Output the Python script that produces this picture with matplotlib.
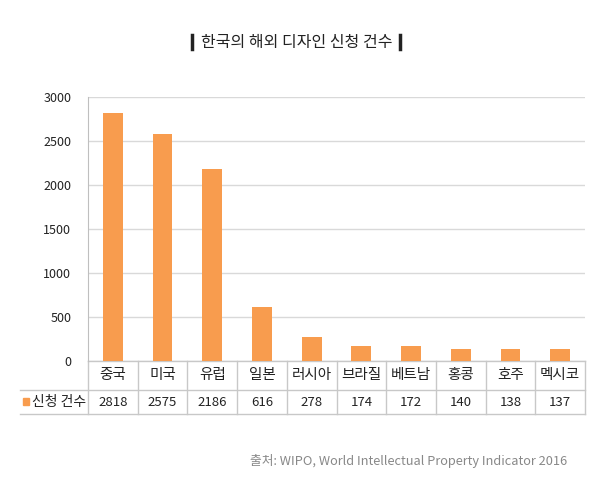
import numpy as np
import matplotlib.pyplot as plt
from matplotlib.lines import Line2D
from matplotlib.patches import Rectangle
import matplotlib.transforms as mtransforms

plt.rcParams['font.family'] = ['Noto Sans CJK KR', 'DejaVu Sans']

countries = ['중국', '미국', '유럽', '일본', '러시아', '브라질', '베트남', '홍콩', '호주', '멕시코']
counts = [2818, 2575, 2186, 616, 278, 174, 172, 140, 138, 137]
series_name = '신청 건수'
yticks = [0, 500, 1000, 1500, 2000, 2500, 3000]

title = '한국의 해외 디자인 신청 건수'
source = '출처: WIPO, World Intellectual Property Indicator 2016'

bar_color = '#F89C4E'
grid_color = '#D9D9D9'
text_color = '#222222'

W, H = 595, 480
fig = plt.figure(figsize=(W / 100, H / 100), dpi=100)
ax = fig.add_axes([88 / W, 1 - 361 / H, (585 - 88) / W, (361 - 97) / H])

x = np.arange(len(countries))
ax.bar(x, counts, width=0.4, color=bar_color, zorder=3)
ax.set_xlim(-0.5, len(countries) - 0.5)
ax.set_ylim(0, 3000)
ax.set_yticks(yticks)
ax.set_yticklabels([str(v) for v in yticks], fontsize=9, color=text_color)
ax.tick_params(axis='y', length=0, pad=12)
ax.set_xticks([])
ax.grid(axis='y', color=grid_color, linewidth=1, zorder=0)
for s in ['top', 'right', 'bottom']:
    ax.spines[s].set_visible(False)
ax.spines['left'].set_color('#BFBFBF')

# data table under the axis
trans = mtransforms.blended_transform_factory(ax.transData, ax.transAxes)
ah = 361 - 97
r1 = -29 / ah
r2 = -53 / ah
left_ax = (20 - 88) / (585 - 88)
lc = '#C8C8C8'
for i in range(len(countries) + 1):
    ax.add_line(Line2D([i - 0.5, i - 0.5], [0, r2], transform=trans, color=lc,
                       lw=1, clip_on=False))
ax.add_line(Line2D([0, 1], [0, 0], transform=ax.transAxes, color=lc, lw=1, clip_on=False))
for yy in [r1, r2]:
    ax.add_line(Line2D([left_ax, 1], [yy, yy], transform=ax.transAxes, color=lc,
                       lw=1, clip_on=False))
for i, (c, v) in enumerate(zip(countries, counts)):
    ax.text(i, r1 / 2, c, transform=trans, ha='center', va='center',
            fontsize=10.5, color=text_color)
    ax.text(i, (r1 + r2) / 2, str(v), transform=trans, ha='center', va='center',
            fontsize=9.5, color=text_color)
# legend key
ax.add_patch(Rectangle((left_ax + 3 / 497, (r1 + r2) / 2 - 3 / ah), 6 / 497, 7 / ah,
                       transform=ax.transAxes, color=bar_color, clip_on=False))
ax.text(left_ax + 12 / 497, (r1 + r2) / 2, series_name, transform=ax.transAxes,
        ha='left', va='center', fontsize=10, color=text_color)

# title with bars
fig.text(297 / W, 1 - 42 / H, title, ha='center', va='center', fontsize=11.5,
         color='#222222')
for px in [192, 400]:
    fig.add_artist(Line2D([px / W, px / W], [1 - 35 / H, 1 - 49 / H], color='#222222',
                          lw=2.5))

fig.text(567 / W, 1 - 461 / H, source, ha='right', va='center', fontsize=9.2,
         color='#888888')

fig.savefig('out.png', dpi=100)
